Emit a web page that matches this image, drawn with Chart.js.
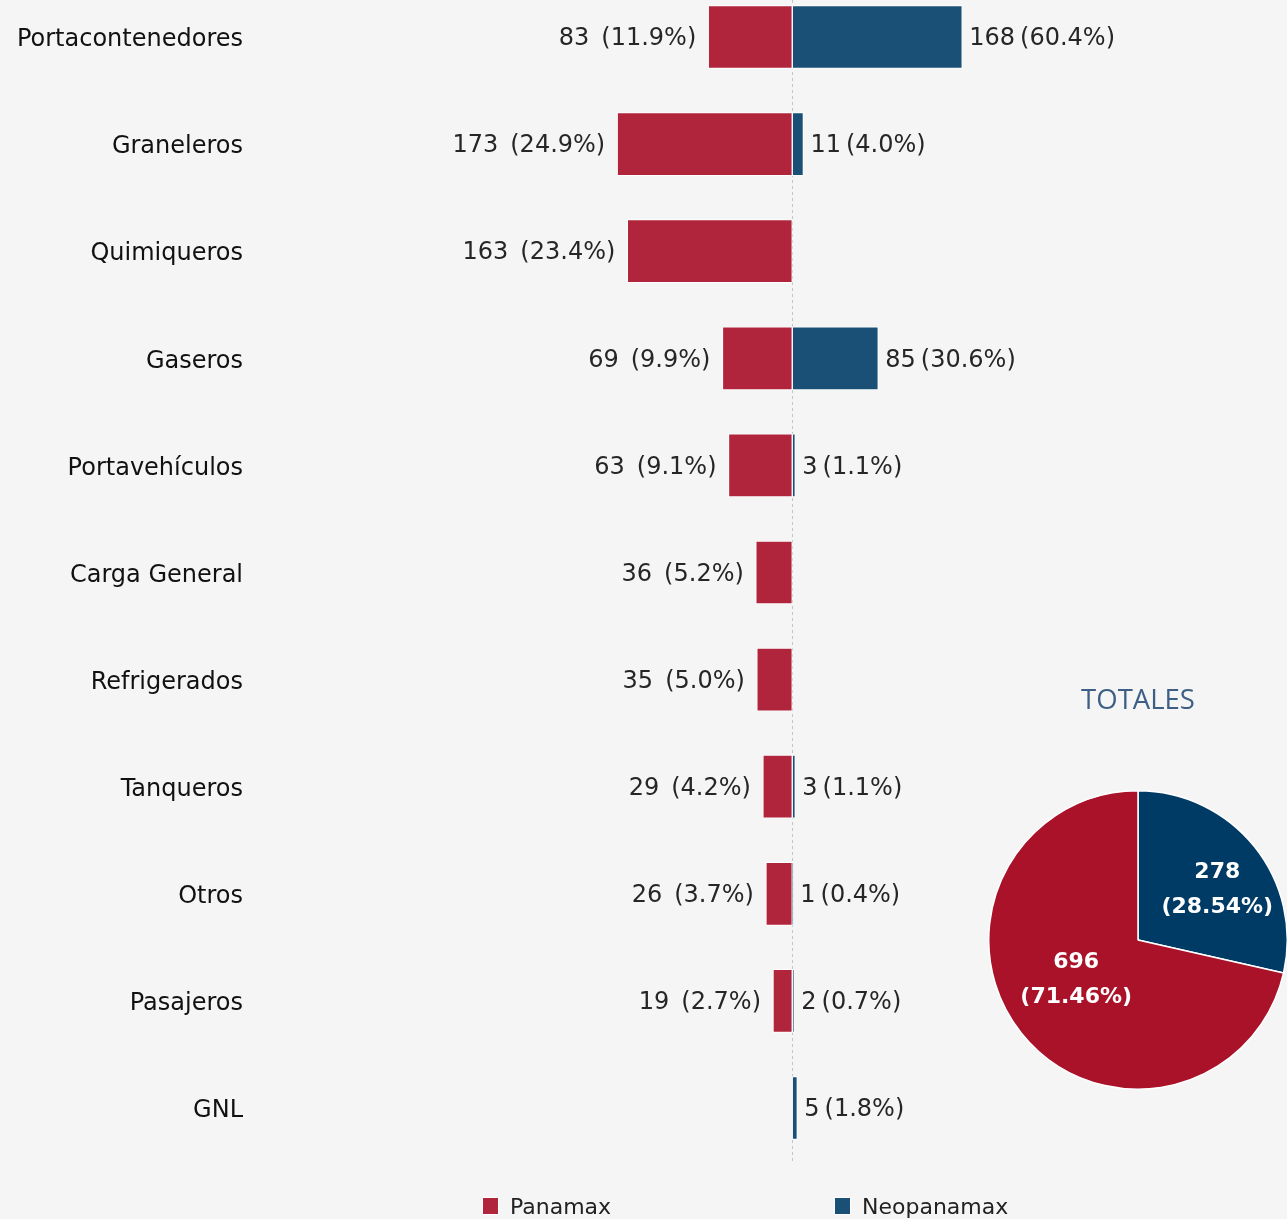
<!DOCTYPE html>
<html>
<head>
<meta charset="utf-8">
<script src="https://cdn.jsdelivr.net/npm/chart.js@4.4.1/dist/chart.umd.min.js"></script>
<style>
  html, body { margin: 0; padding: 0; background: #f5f5f5; overflow: hidden; }
  #wrap { position: relative; width: 1287px; height: 1219px; }
  #bars { position: absolute; left: 0; top: 0; }
  #pie { position: absolute; left: 978px; top: 680px; }
  .item { position: absolute; top: 1191px; height: 30px; display: flex; align-items: center;
          font-family: "DejaVu Sans"; font-size: 22px; color: #222; }
  .sw { width: 15px; height: 16px; margin-right: 11px; border: 1px solid #fff; }
</style>
</head>
<body>
<div id="wrap">
  <canvas id="bars" width="1287" height="1219"></canvas>
  <canvas id="pie" width="320" height="410"></canvas>
</div>
<script>
// datos
var categorias = ['Portacontenedores', 'Graneleros', 'Quimiqueros', 'Gaseros', 'Portavehículos',
                  'Carga General', 'Refrigerados', 'Tanqueros', 'Otros', 'Pasajeros', 'GNL'];
var panamax    = [83, 173, 163, 69, 63, 36, 35, 29, 26, 19, 0];
var neopanamax = [168, 11, 0, 85, 3, 0, 0, 3, 1, 2, 5];
var series     = ['Panamax', 'Neopanamax'];
var tituloPie  = 'TOTALES';

var rojo = '#b0253c', azul = '#1a4f76';
var rojoPie = '#a91229', azulPie = '#003b66';

function suma(a) { return a.reduce(function (s, v) { return s + v; }, 0); }
var totPan = suma(panamax), totNeo = suma(neopanamax);

// linea punteada en el cero
var lineaCero = {
  id: 'lineaCero',
  beforeDatasetsDraw: function (chart) {
    var ctx = chart.ctx;
    var x = Math.round(chart.scales.x.getPixelForValue(0)) + 0.5;
    ctx.save();
    ctx.strokeStyle = '#c4c4c4';
    ctx.lineWidth = 1;
    ctx.setLineDash([3, 3]);
    ctx.beginPath();
    ctx.moveTo(x, 0);
    ctx.lineTo(x, chart.chartArea.bottom + 54);
    ctx.stroke();
    ctx.restore();
  }
};

// etiquetas "valor (porcentaje)"
var etiquetas = {
  id: 'etiquetas',
  afterDatasetsDraw: function (chart) {
    var ctx = chart.ctx;
    ctx.save();
    ctx.font = '24px "DejaVu Sans"';
    ctx.fillStyle = '#262626';
    ctx.textBaseline = 'middle';
    chart.data.datasets.forEach(function (ds, d) {
      var meta = chart.getDatasetMeta(d);
      var vals = d === 0 ? panamax : neopanamax;
      var total = d === 0 ? totPan : totNeo;
      meta.data.forEach(function (bar, i) {
        var v = vals[i];
        if (!v) return;
        var pct = '(' + (v / total * 100).toFixed(1) + '%)';
        var x, y = bar.y + 2;
        if (d === 0) {
          ctx.textAlign = 'right';
          x = bar.x - 12;
          ctx.fillText(pct, x, y);
          ctx.fillText(String(v), x - ctx.measureText(pct).width - 12, y);
        } else {
          ctx.textAlign = 'left';
          x = bar.x + 7;
          ctx.fillText(String(v), x, y);
          ctx.fillText(pct, x + ctx.measureText(String(v)).width + 5, y);
        }
      });
    });
    ctx.restore();
  }
};

var barras = new Chart(document.getElementById('bars'), {
  type: 'bar',
  data: {
    labels: categorias,
    datasets: [
      {
        label: series[0],
        data: panamax.map(function (v) { return -v; }),
        backgroundColor: rojo,
        borderColor: '#fff',
        borderWidth: 1,
        borderSkipped: false,
        barThickness: 63,
        clip: false
      },
      {
        label: series[1],
        data: neopanamax,
        backgroundColor: azul,
        borderColor: '#fff',
        borderWidth: 1,
        borderSkipped: false,
        barThickness: 63,
        clip: false
      }
    ]
  },
  options: {
    indexAxis: 'y',
    responsive: false,
    animation: false,
    layout: { padding: { top: 37, bottom: 111, left: 0, right: 0 } },
    scales: {
      x: {
        display: false,
        stacked: true,
        min: -531,
        max: 489
      },
      y: {
        stacked: true,
        offset: false,
        afterFit: function (s) { s.width = 255; },
        grid: { display: false, drawTicks: false },
        border: { display: false },
        ticks: {
          padding: 12,
          labelOffset: 3,
          color: '#111',
          font: { family: 'DejaVu Sans', size: 24 }
        }
      }
    },
    plugins: {
      legend: { display: false },
      tooltip: { enabled: false }
    }
  },
  plugins: [lineaCero, etiquetas]
});

// leyenda inferior
var wrap = document.getElementById('wrap');
[482, 834].forEach(function (left, d) {
  var ds = barras.data.datasets[d];
  var it = document.createElement('div');
  it.className = 'item';
  it.style.left = left + 'px';
  it.innerHTML = '<span class="sw" style="background:' + ds.backgroundColor + '"></span>' + ds.label;
  wrap.appendChild(it);
});

// etiquetas dentro del pastel
var etiquetasPie = {
  id: 'etiquetasPie',
  afterDatasetsDraw: function (chart) {
    var ctx = chart.ctx;
    var vals = chart.data.datasets[0].data;
    var total = suma(vals);
    var dist = [0.68, 0.53];
    ctx.save();
    ctx.font = 'bold 22px "DejaVu Sans"';
    ctx.fillStyle = '#fff';
    ctx.textAlign = 'center';
    ctx.textBaseline = 'middle';
    chart.getDatasetMeta(0).data.forEach(function (arc, i) {
      var mid = (arc.startAngle + arc.endAngle) / 2;
      var r = arc.outerRadius * dist[i];
      var x = arc.x + Math.cos(mid) * r;
      var y = arc.y + Math.sin(mid) * r * 0.8;
      ctx.fillText(String(vals[i]), x, y - 17);
      ctx.fillText('(' + (vals[i] / total * 100).toFixed(2) + '%)', x, y + 18);
    });
    ctx.restore();
  }
};

new Chart(document.getElementById('pie'), {
  type: 'pie',
  data: {
    labels: [series[1], series[0]],
    datasets: [{
      data: [totNeo, totPan],
      backgroundColor: [azulPie, rojoPie],
      borderColor: '#fff',
      borderWidth: 1.5
    }]
  },
  options: {
    responsive: false,
    animation: false,
    plugins: {
      legend: { display: false },
      tooltip: { enabled: false },
      title: {
        display: true,
        text: tituloPie,
        color: '#3e5f85',
        font: { family: 'Open Sans', size: 27.5, weight: 'normal' },
        padding: { top: 5, bottom: 72 }
      }
    }
  },
  plugins: [etiquetasPie]
});
</script>
</body>
</html>
